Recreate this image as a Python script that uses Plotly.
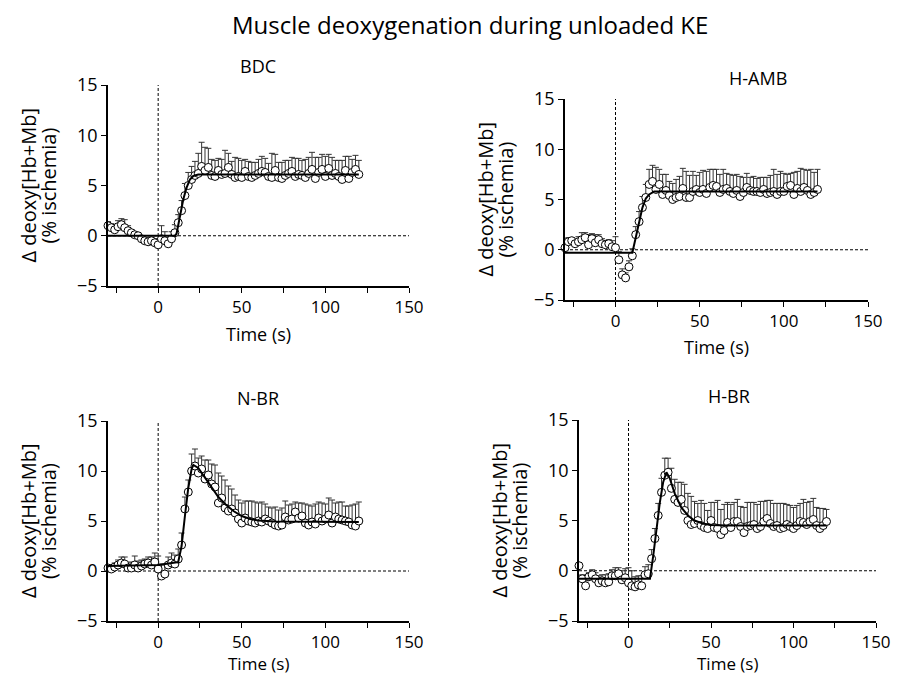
import plotly.graph_objects as go

# the page body has an 8-px margin, so the figure is drawn 8 px in from the top-left corner
OFF = 8
W, H = 900 - 2 * OFF, 683 - 2 * OFF
FONT = "Open Sans"

time = list(range(-30, 122, 2))  # 76 samples, 2-s interval

bdc_y = [1.0, 0.8, 0.6, 0.9, 1.1, 0.8, 0.5, 0.3, 0.1, 0.0, -0.3, -0.5, -0.6, -0.5, -0.7, -0.9,
         -0.3, -0.5, -0.8, -0.3, 0.3, 1.3, 2.5, 4.0, 5.0, 5.6, 6.0, 6.2, 6.9, 6.5, 6.8, 6.0,
         5.9, 6.5, 6.1, 6.2, 6.8, 6.1, 5.8, 5.9, 5.8, 6.4, 5.9, 5.8, 6.0, 6.2, 6.4, 6.3,
         5.9, 5.8, 6.5, 5.8, 5.7, 6.0, 6.2, 6.4, 5.9, 6.1, 6.0, 5.8, 6.2, 6.6, 5.7, 6.3,
         6.6, 5.9, 6.7, 6.0, 6.2, 5.9, 5.6, 6.5, 5.7, 6.3, 6.6, 6.1]
bdc_err = [0.4, 0.4, 0.5, 0.6, 0.6, 0.8, 0.5, 0.3, 0.2, 0.2, 0.2, 0.2, 0.2, 0.3, 0.4, 0.6,
           1.3, 0.9, 0.6, 0.7, 0.8, 0.8, 1.0, 1.2, 1.3, 1.3, 1.4, 2.0, 2.4, 2.3, 1.9, 1.6,
           1.6, 1.2, 1.5, 2.3, 1.4, 1.3, 2.0, 1.8, 1.7, 1.2, 1.5, 1.5, 1.3, 1.4, 1.5, 1.4,
           1.3, 2.4, 1.6, 1.5, 1.6, 1.5, 1.3, 1.4, 1.8, 1.6, 1.5, 1.8, 1.6, 1.7, 2.1, 1.5,
           1.5, 2.0, 1.4, 1.8, 1.3, 1.6, 1.9, 1.4, 2.2, 1.3, 1.4, 1.4]
bdc_fit_t = [-30, 10, 11, 13, 15, 17, 19, 21, 24, 120]
bdc_fit_y = [0.0, 0.0, 0.2, 1.8, 3.6, 4.8, 5.6, 5.95, 6.1, 6.1]

hamb_y = [0.2, 0.8, 0.9, 0.6, 0.8, 1.0, 1.2, 0.5, 1.1, 0.7, 1.0, 0.6, 0.5, 0.6, 0.3, 0.2,
          -1.0, -2.5, -2.8, -1.7, -0.6, 1.5, 2.8, 4.2, 5.2, 6.5, 6.8, 6.0, 6.5, 5.5, 5.9, 5.4,
          5.0, 5.2, 5.3, 6.1, 5.2, 5.2, 5.8, 6.0, 5.7, 6.0, 5.6, 6.2, 6.4, 6.3, 5.7, 6.0,
          6.1, 5.8, 5.6, 5.9, 5.3, 5.7, 6.2, 5.9, 5.8, 5.8, 5.7, 6.0, 5.6, 5.7, 5.8, 5.5,
          5.8, 5.8, 6.3, 6.4, 5.5, 6.1, 5.8, 6.2, 5.9, 5.5, 5.7, 6.0]
hamb_err = [0.4, 0.4, 0.3, 0.4, 0.5, 0.7, 0.5, 1.0, 0.5, 0.8, 0.5, 0.5, 0.4, 0.4, 0.6, 1.1,
            0.8, 0.6, 0.5, 0.6, 0.7, 0.8, 1.0, 1.1, 1.3, 1.5, 1.6, 2.2, 1.5, 2.0, 1.6, 1.4,
            1.6, 1.8, 2.0, 2.0, 2.6, 2.2, 2.0, 1.4, 2.0, 1.9, 2.2, 1.8, 1.6, 1.7, 1.8, 2.0,
            1.5, 1.7, 1.8, 1.6, 2.0, 1.5, 1.4, 1.3, 1.5, 1.3, 1.5, 1.2, 1.6, 1.7, 2.2, 2.0,
            2.0, 1.8, 1.2, 1.2, 2.2, 1.7, 2.3, 1.8, 2.0, 2.5, 2.0, 2.0]
hamb_fit_t = [-30, 10, 12, 14, 16, 18, 20, 23, 120]
hamb_fit_y = [-0.3, -0.3, 1.2, 2.8, 4.2, 5.1, 5.5, 5.8, 5.8]

nbr_y = [0.3, 0.2, 0.4, 0.6, 0.8, 0.7, 0.3, 0.3, 0.6, 0.3, 0.5, 0.7, 0.8, 0.6, 0.9, 0.2,
         -0.5, -0.3, 0.6, 0.8, 0.7, 1.2, 2.6, 6.2, 7.9, 10.0, 10.5, 9.8, 10.2, 9.2, 9.6, 8.7,
         8.4, 6.8, 7.3, 6.3, 6.0, 6.2, 5.8, 5.2, 4.8, 5.3, 5.0, 4.9, 4.8, 5.0, 4.9, 5.2,
         5.0, 4.8, 4.6, 4.5, 4.6, 5.4, 5.1, 5.2, 5.9, 5.3, 5.5, 4.8, 4.6, 4.9, 4.7, 5.3,
         5.0, 5.2, 5.6, 4.8, 5.4, 5.2, 5.1, 5.0, 4.9, 4.6, 4.5, 5.0]
nbr_err = [0.3, 0.4, 0.4, 0.5, 0.6, 0.7, 0.5, 0.6, 0.9, 0.7, 0.6, 0.5, 0.6, 0.8, 0.9, 1.3,
           1.2, 0.9, 0.8, 1.0, 0.9, 1.0, 1.2, 1.2, 1.2, 1.7, 1.7, 1.5, 1.3, 1.9, 1.5, 2.0,
           2.2, 3.0, 2.2, 2.8, 2.5, 2.0, 1.8, 1.9, 2.0, 1.7, 2.0, 2.1, 2.1, 1.8, 2.0, 1.5,
           1.4, 1.5, 1.8, 1.6, 1.7, 1.6, 1.5, 1.5, 1.0, 1.5, 1.3, 1.9, 2.0, 1.6, 2.0, 1.6,
           1.8, 1.5, 1.7, 2.3, 1.4, 1.7, 1.8, 1.5, 1.6, 2.0, 2.2, 1.9]
nbr_fit_t = [-30, 0, 12, 14, 16, 18, 20, 21, 24, 28, 32, 36, 40, 45, 50, 55, 60, 70, 120]
nbr_fit_y = [0.5, 0.6, 0.9, 2.5, 5.5, 8.3, 10.2, 10.6, 10.3, 9.3, 8.3, 7.4, 6.7, 6.0, 5.5, 5.2, 5.05, 4.95, 4.9]

hbr_y = [0.5, -0.8, -1.5, -0.6, -0.4, -0.8, -1.2, -1.0, -1.2, -1.1, -0.5, -0.5, -0.3, -0.9, -0.7, -1.2,
         -1.5, -1.6, -1.4, -1.5, -0.4, -0.3, 1.2, 3.2, 5.5, 7.8, 9.5, 9.8, 8.2, 7.1, 6.8, 7.1,
         6.0, 5.0, 4.6, 4.7, 5.0, 4.5, 4.3, 4.2, 5.0, 4.3, 4.2, 3.6, 4.0, 4.8, 4.3, 4.9,
         4.9, 4.4, 3.8, 4.4, 4.5, 4.6, 4.2, 4.4, 4.9, 5.2, 4.7, 4.4, 4.5, 4.2, 4.3, 4.6,
         4.4, 4.2, 4.5, 4.9, 4.8, 4.6, 4.9, 5.1, 4.5, 4.2, 4.5, 4.9]
hbr_err = [0.3, 0.4, 0.5, 0.4, 0.5, 0.6, 0.7, 0.6, 0.8, 0.8, 0.6, 0.8, 0.6, 0.9, 0.9, 1.5,
           1.5, 1.0, 0.9, 1.0, 0.8, 0.9, 0.9, 1.0, 1.2, 1.4, 1.7, 1.4, 2.0, 2.0, 2.0, 1.7,
           2.6, 2.7, 2.8, 2.2, 1.7, 2.5, 2.4, 1.8, 1.8, 2.5, 2.8, 2.5, 2.6, 2.0, 2.3, 1.9,
           2.2, 2.0, 2.5, 2.4, 2.3, 2.2, 2.4, 2.5, 2.0, 1.8, 2.3, 2.3, 2.2, 2.5, 2.4, 2.0,
           2.1, 2.1, 2.0, 1.8, 2.3, 2.2, 2.0, 2.1, 1.8, 2.0, 1.7, 1.2]
hbr_fit_t = [-30, 13, 15, 17, 19, 21, 23, 25, 28, 32, 36, 40, 45, 50, 60, 120]
hbr_fit_y = [-0.8, -0.8, 1.5, 4.2, 6.8, 8.8, 9.8, 9.2, 7.7, 6.3, 5.5, 5.0, 4.7, 4.55, 4.5, 4.5]

panels = [
    ("BDC", bdc_y, bdc_err, bdc_fit_t, bdc_fit_y),
    ("H-AMB", hamb_y, hamb_err, hamb_fit_t, hamb_fit_y),
    ("N-BR", nbr_y, nbr_err, nbr_fit_t, nbr_fit_y),
    ("H-BR", hbr_y, hbr_err, hbr_fit_t, hbr_fit_y),
]

x_tickvals = [-25, 0, 25, 50, 75, 100, 125, 150]
x_ticktext = ["", "0", "", "50", "", "100", "", "150"]
y_tickvals = [-5, 0, 5, 10, 15]
y_title_1 = "\u0394 deoxy[Hb+Mb]"
y_title_2 = "(% ischemia)"
x_title = "Time (s)"

# pixel boxes in the screenshot (left, right, top, bottom) of each plot area
boxes = [(108, 409, 85, 286), (565, 868, 99, 300), (108, 409, 421, 621), (579, 876, 420, 621)]
title_pos = [(258, 66), (758, 78), (258, 398), (729, 396)]
xtitle_gap = [48, 47, 42, 42]
xtitle_size = [18, 18, 17, 17]


def px(xp):
    return (xp - OFF) / W


def py(yp):
    return 1 - (yp - OFF) / H


fig = go.Figure()
layout = {}
annotations = []
shapes = []
for i, ((name, ys, errs, ft, fy), (l, r, t, b)) in enumerate(zip(panels, boxes)):
    n = "" if i == 0 else str(i + 1)
    xa, ya = "x" + n, "y" + n
    shapes.append(dict(type="line", xref=xa, yref=ya, x0=0, x1=0, y0=-5, y1=15, layer="below",
                       line=dict(color="black", width=1, dash="3px,2px")))
    shapes.append(dict(type="line", xref=xa, yref=ya, x0=-30, x1=150, y0=0, y1=0, layer="below",
                       line=dict(color="black", width=1, dash="3px,2px")))
    fig.add_trace(go.Scatter(
        x=time, y=ys, mode="markers", xaxis=xa, yaxis=ya,
        marker=dict(symbol="circle", size=8, color="white", line=dict(color="black", width=1)),
        error_y=dict(type="data", array=errs, symmetric=False, arrayminus=[0] * len(errs),
                     color="#333333", thickness=1, width=3),
        showlegend=False, cliponaxis=False))
    fig.add_trace(go.Scatter(
        x=ft, y=fy, mode="lines", xaxis=xa, yaxis=ya,
        line=dict(color="black", width=2), showlegend=False))
    layout["xaxis" + n] = dict(
        domain=[px(l), px(r)], range=[-30, 150], anchor=ya, automargin=False,
        tickvals=x_tickvals, ticktext=x_ticktext, ticks="outside", ticklen=5, tickwidth=1,
        tickcolor="black", ticklabeloverflow="allow",
        showline=True, linecolor="black", linewidth=1.5, showgrid=False, zeroline=False,
        tickfont=dict(size=17, color="black", family=FONT))
    layout["yaxis" + n] = dict(
        domain=[py(b), py(t)], range=[-5, 15], anchor=xa, automargin=False,
        tickvals=y_tickvals, ticks="outside", ticklen=5, tickwidth=1, tickcolor="black",
        showline=True, linecolor="black", linewidth=1.5, showgrid=False, zeroline=False,
        tickfont=dict(size=18, color="black", family=FONT))
    # axis titles
    annotations.append(dict(text=x_title, x=px((l + r) / 2), y=py(b + xtitle_gap[i]),
                            xref="paper", yref="paper",
                            showarrow=False, xanchor="center", yanchor="middle",
                            font=dict(size=xtitle_size[i], color="black", family=FONT)))
    annotations.append(dict(text=y_title_1, x=px(l - 80), y=py((t + b) / 2), xref="paper", yref="paper",
                            showarrow=False, xanchor="center", yanchor="middle", textangle=-90,
                            font=dict(size=20, color="black", family=FONT)))
    annotations.append(dict(text=y_title_2, x=px(l - 60), y=py((t + b) / 2), xref="paper", yref="paper",
                            showarrow=False, xanchor="center", yanchor="middle", textangle=-90,
                            font=dict(size=20, color="black", family=FONT)))
    tx, ty = title_pos[i]
    annotations.append(dict(text=name, x=px(tx), y=py(ty), xref="paper", yref="paper",
                            showarrow=False, font=dict(size=18, color="black", family=FONT),
                            xanchor="center", yanchor="middle"))

annotations.append(dict(text="Muscle deoxygenation during unloaded KE", x=px(470), y=py(25),
                        xref="paper", yref="paper", showarrow=False, xanchor="center", yanchor="middle",
                        font=dict(size=24, color="black", family=FONT)))

fig.update_layout(width=W, height=H, margin=dict(l=0, r=0, t=0, b=0),
                  paper_bgcolor="white", plot_bgcolor="white",
                  annotations=annotations, shapes=shapes, **layout)
fig.write_html("out.html")
